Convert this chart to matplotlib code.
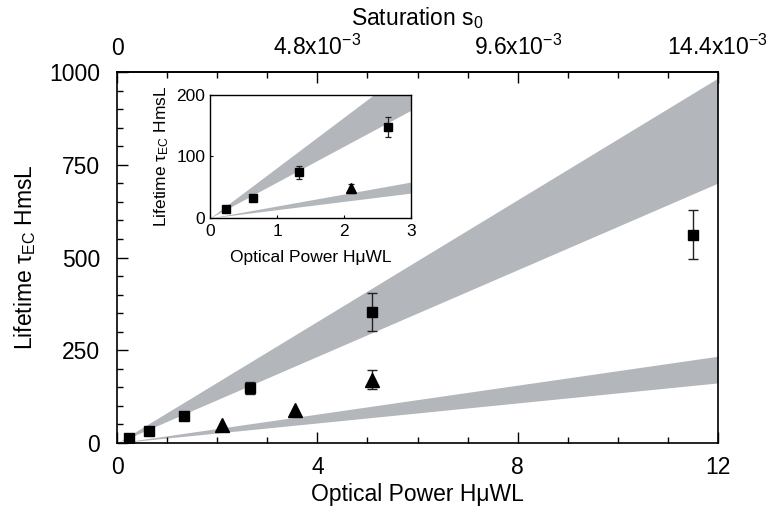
"""
Cavity lifetime vs optical power, with inset zoom on the low-power region.
"""
import matplotlib
matplotlib.use("Agg")
import matplotlib.pyplot as plt
import numpy as np
from matplotlib.ticker import MultipleLocator

plt.rcParams['font.family'] = ['Liberation Sans', 'DejaVu Sans']
plt.rcParams['mathtext.fontset'] = 'custom'
plt.rcParams['mathtext.rm'] = 'Liberation Sans'
plt.rcParams['mathtext.it'] = 'Liberation Sans:italic'
plt.rcParams['mathtext.bf'] = 'Liberation Sans:bold'

# squares (measured lifetimes, series 1)
sq_power = [0.24, 0.64, 1.33, 2.65, 5.1, 11.5]
sq_tau = [14, 32, 74, 148, 353, 561]
sq_err = [3, 4, 10, 16, 52, 66]

# triangles (series 2)
tri_power = [2.1, 3.55, 5.1]
tri_tau = [48, 90, 171]
tri_err = [8, 10, 25]

# shaded theory bands: tau = slope * power
band_hi = (58.4, 82.0)
band_lo = (13.5, 19.5)

top_ticks = [0, 4, 8, 12]
top_labels = ['0', r'4.8x10$^{-3}$', r'9.6x10$^{-3}$', r'14.4x10$^{-3}$']

band_color = '#b3b7bc'
fs = 16.5
fs_in = 12.5


def points(ax, px, py, err, marker, ms, cap, lw_err, min_err):
    # error bars smaller than the marker are hidden behind it, skip them
    big = [i for i, e in enumerate(err) if e >= min_err]
    if big:
        ax.errorbar([px[i] for i in big], [py[i] for i in big], yerr=[err[i] for i in big],
                    fmt='none', ecolor='#222222', elinewidth=lw_err, capsize=cap,
                    capthick=lw_err, zorder=2)
    ax.plot(px, py, marker, color='black', ms=ms, lw=0, zorder=3)


def draw(ax, xmax, ms_sq, ms_tri, cap, lw_err, min_err):
    p = np.linspace(0, xmax, 50)
    ax.fill_between(p, band_hi[0] * p, band_hi[1] * p, color=band_color, lw=0, zorder=1)
    ax.fill_between(p, band_lo[0] * p, band_lo[1] * p, color=band_color, lw=0, zorder=1)
    points(ax, sq_power, sq_tau, sq_err, 's', ms_sq, cap, lw_err, min_err)
    points(ax, tri_power, tri_tau, tri_err, '^', ms_tri, cap, lw_err, min_err)


fig = plt.figure(figsize=(7.75, 5.21), dpi=100)
ax = fig.add_axes([0.151, 0.1497, 0.7755, 0.712])
draw(ax, 12, 7.2, 10.5, 3.3, 1.0, 12)
ax.set_xlim(0, 12)
ax.set_ylim(0, 1000)
ax.set_xticks([0, 4, 8, 12])
ax.set_yticks([0, 250, 500, 750, 1000])
ax.xaxis.set_minor_locator(MultipleLocator(1))
ax.yaxis.set_minor_locator(MultipleLocator(50))
ax.tick_params(which='both', direction='in', right=False, top=False, width=1.0)
ax.tick_params(which='major', length=8)
ax.tick_params(which='minor', length=4)
ax.tick_params(axis='x', labelsize=fs, pad=9)
ax.tick_params(axis='y', labelsize=fs, pad=12)
for s in ax.spines.values():
    s.set_linewidth(1.2)

ax.set_xlabel('Optical Power HμWL', fontsize=fs)
ax.xaxis.set_label_coords(0.5, -0.108)
ax.set_ylabel(r'Lifetime τ$_{\mathrm{EC}}$ HmsL', fontsize=fs, va='center')
ax.yaxis.set_label_coords(-0.153, 0.5)

sec = ax.secondary_xaxis('top')
sec.set_xticks(top_ticks)
sec.set_xticklabels(top_labels)
sec.xaxis.set_minor_locator(MultipleLocator(1))
sec.tick_params(which='both', direction='in', width=1.0, labelsize=fs, pad=8.5)
sec.tick_params(which='major', length=8)
sec.tick_params(which='minor', length=4)
sec.spines['top'].set_linewidth(1.2)
sec.set_xlabel(r'Saturation s$_0$', fontsize=fs, labelpad=7)

# inset
axi = fig.add_axes([0.271, 0.5816, 0.2594, 0.2361])
draw(axi, 3, 5.8, 7.0, 2.5, 0.9, 5)
axi.set_xlim(0, 3)
axi.set_ylim(0, 200)
axi.set_xticks([0, 1, 2, 3])
axi.set_yticks([0, 100, 200])
axi.tick_params(direction='in', length=2, width=0.8, right=False, top=False)
axi.tick_params(axis='x', labelsize=fs_in, pad=4)
axi.tick_params(axis='y', labelsize=fs_in, pad=3.5)
for s in axi.spines.values():
    s.set_linewidth(1.0)
axi.set_xlabel('Optical Power HμWL', fontsize=fs_in, labelpad=8)
axi.set_ylabel(r'Lifetime τ$_{\mathrm{EC}}$ HmsL', fontsize=fs_in, labelpad=4)

fig.savefig('out.png', dpi=100)
